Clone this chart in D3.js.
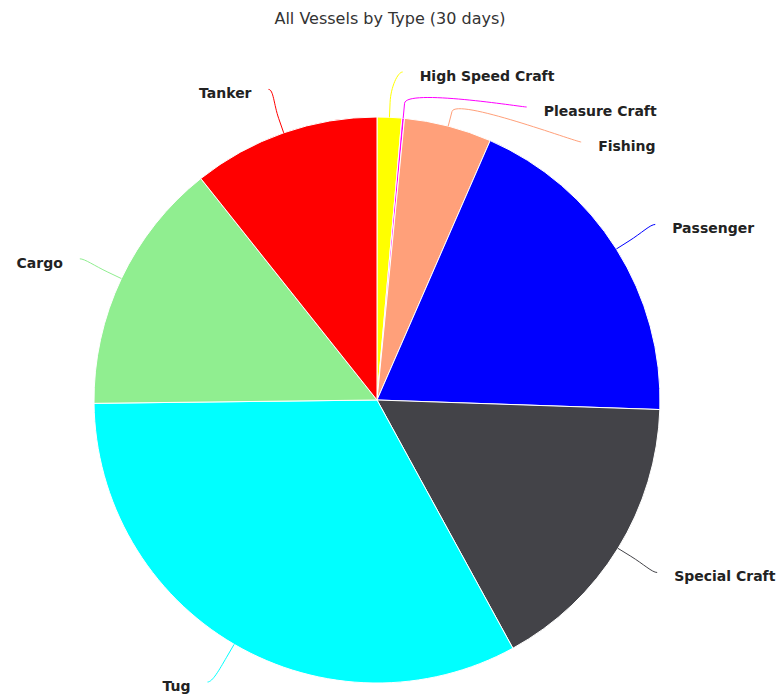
<!DOCTYPE html>
<html lang="en">
<head>
    <meta charset="UTF-8">
    <title>All Vessels by Type</title>
    <script src="https://cdn.jsdelivr.net/npm/d3@7/dist/d3.min.js"></script>
    <style>
        body { margin: 0; background: #fff; }
        svg { display: block; font-family: "DejaVu Sans", sans-serif; }
    </style>
</head>
<body>
<svg width="780" height="700"></svg>
<script>
    // vessel counts, last 30 days
    var categories = ["High Speed Craft", "Pleasure Craft", "Fishing", "Passenger",
        "Special Craft", "Tug", "Cargo", "Tanker"];
    var values = [14, 1.5, 50, 190, 165, 328, 145, 107];
    var colors = ["#ffff00", "#ff00ff", "#ffa07a", "#0000ff",
        "#434348", "#00ffff", "#90ee90", "#ff0000"];

    var svg = d3.select("svg");
    var cx = 377, cy = 400, r = 283;
    var labelR = r + 46;      // where connectors end
    var spacing = 35;         // min vertical gap between labels
    var gap = 17;             // connector end -> text
    var minY = 72, maxY = 682;

    svg.append("text")
        .attr("x", 390)
        .attr("y", 24)
        .attr("text-anchor", "middle")
        .attr("fill", "#333")
        .style("font-size", "16px")
        .text("All Vessels by Type (30 days)");

    var data = categories.map(function (c, i) {
        return {name: c, value: values[i], color: colors[i]};
    });

    var pie = d3.pie().sort(null).value(function (d) { return d.value; });
    var arcs = pie(data);
    var arc = d3.arc().innerRadius(0).outerRadius(r);

    var g = svg.append("g").attr("transform", "translate(" + cx + "," + cy + ")");

    g.selectAll("path.slice")
        .data(arcs)
        .enter()
        .append("path")
        .attr("class", "slice")
        .attr("d", arc)
        .attr("fill", function (d) { return d.data.color; })
        .attr("stroke", "#fff")
        .attr("stroke-width", 1);

    // label layout
    arcs.forEach(function (d) {
        d.mid = (d.startAngle + d.endAngle) / 2;
        d.right = Math.sin(d.mid) >= 0;
        d.ny = -labelR * Math.cos(d.mid);
    });

    function distribute(items) {
        items.sort(function (a, b) { return a.ny - b.ny; });
        var clusters = items.map(function (d) { return {items: [d], sum: d.ny}; });
        var merged = true;
        function place(c) {
            var n = c.items.length;
            var top = c.sum / n - (n - 1) * spacing / 2;
            top = Math.max(top, minY - cy);
            top = Math.min(top, maxY - cy - (n - 1) * spacing);
            c.top = top;
        }
        clusters.forEach(place);
        while (merged) {
            merged = false;
            for (var i = 0; i < clusters.length - 1; i++) {
                var a = clusters[i], b = clusters[i + 1];
                if (a.top + (a.items.length - 1) * spacing + spacing > b.top) {
                    a.items = a.items.concat(b.items);
                    a.sum += b.sum;
                    clusters.splice(i + 1, 1);
                    place(a);
                    merged = true;
                    break;
                }
            }
        }
        clusters.forEach(function (c) {
            c.items.forEach(function (d, k) { d.ly = c.top + k * spacing; });
        });
    }
    distribute(arcs.filter(function (d) { return d.right; }));
    distribute(arcs.filter(function (d) { return !d.right; }));

    arcs.forEach(function (d) {
        var s = d.right ? 1 : -1;
        var dy = Math.max(-labelR, Math.min(labelR, d.ly));
        d.lx = s * Math.sqrt(labelR * labelR - dy * dy);
        d.touch = [r * Math.sin(d.mid), -r * Math.cos(d.mid)];
        d.brk = [(r + 15) * Math.sin(d.mid), -(r + 15) * Math.cos(d.mid)];
    });

    var lab = g.selectAll("g.label")
        .data(arcs)
        .enter()
        .append("g")
        .attr("class", "label");

    lab.append("path")
        .attr("d", function (d) {
            var s = d.right ? 1 : -1;
            var c2 = [2 * d.brk[0] - d.touch[0], 2 * d.brk[1] - d.touch[1]];
            return "M" + d.lx + "," + d.ly +
                "C" + (d.lx - s * 5) + "," + d.ly + " " + c2[0] + "," + c2[1] + " " + d.brk[0] + "," + d.brk[1] +
                "L" + d.touch[0] + "," + d.touch[1];
        })
        .attr("fill", "none")
        .attr("stroke", function (d) { return d.data.color; })
        .attr("stroke-width", 1);

    lab.append("text")
        .attr("x", function (d) { return d.lx + (d.right ? gap : -gap); })
        .attr("y", function (d) { return d.ly + 4; })
        .attr("dy", "0.35em")
        .attr("text-anchor", function (d) { return d.right ? "start" : "end"; })
        .attr("fill", "#222")
        .style("font-size", "14px")
        .style("font-weight", "bold")
        .text(function (d) { return d.data.name; });
</script>
</body>
</html>
